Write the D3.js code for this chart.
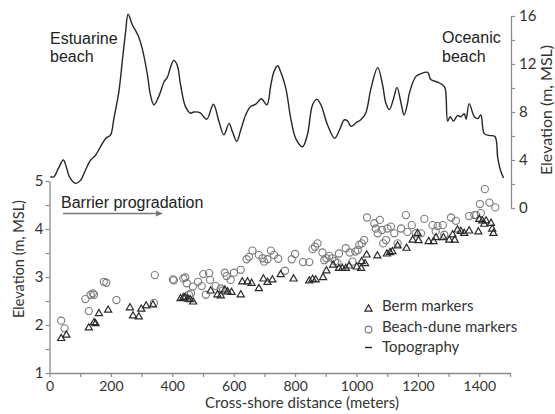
<!DOCTYPE html>
<html>
<head>
<meta charset="utf-8">
<script src="https://cdn.jsdelivr.net/npm/d3@7"></script>
<style>
  html, body { margin: 0; padding: 0; background: #fff; }
  svg { display: block; }
</style>
</head>
<body>
<svg id="chart" width="555" height="414"></svg>
<script>
// Topographic profile across the barrier (distance in m, elevation in m MSL)
const topoDist = [3, 14, 29, 45, 55, 65, 85, 101, 117, 134, 150, 166, 183, 199, 210, 226, 237, 248, 256, 270,
  280, 290, 302, 319, 329, 340, 356, 373, 384, 395, 405, 416, 427, 443, 460, 470, 490, 512, 534, 552,
  568, 585, 596, 610, 623, 639, 655, 672, 690, 708, 721, 731, 743, 753, 770, 786, 802, 824, 840, 857,
  871, 884, 906, 929, 947, 960, 971, 982, 1001, 1014, 1030, 1047, 1069, 1085, 1096, 1107, 1121, 1132, 1145, 1155,
  1166, 1172, 1193, 1210, 1232, 1242, 1264, 1281, 1289, 1297, 1305, 1316, 1329, 1340, 1351, 1357, 1367, 1384, 1395, 1405,
  1416, 1432, 1451, 1460, 1469, 1479];
const topoElev = [2.6, 2.6, 3.3, 4.0, 3.4, 2.6, 2.05, 2.3, 3.15, 4.0, 4.4, 5.1, 5.8, 6.1, 7.5, 9.7, 12.2, 14.7, 16.15, 15.25,
  14.8, 14.3, 13.3, 11.1, 9.4, 8.6, 9.3, 10.5, 10.9, 11.8, 12.3, 11.9, 10.25, 8.45, 7.9, 8.0, 7.95, 7.4, 8.65, 7.2,
  6.1, 7.05, 6.35, 5.55, 6.5, 7.75, 8.45, 8.65, 9.1, 8.6, 10.25, 11.35, 11.85, 11.35, 9.95, 7.45, 5.8, 5.1, 6.1, 8.6,
  9.05, 8.6, 6.9, 5.8, 6.65, 7.35, 7.25, 6.8, 7.15, 7.35, 7.9, 9.95, 11.7, 10.25, 8.7, 8.2, 9.15, 10.05, 8.75, 7.75,
  8.7, 9.55, 10.95, 11.2, 11.3, 10.7, 10.5, 10.25, 9.95, 7.25, 7.6, 7.25, 7.7, 7.6, 7.85, 7.4, 8.7, 7.6, 7.45, 7.75,
  6.2, 6.05, 5.95, 4.2, 3.15, 2.5];

// Berm markers
const bermDist = [38, 55, 128, 145, 150, 161, 191, 262, 272, 291, 299, 315, 337, 427, 436, 442, 451, 458, 468, 525,
  547, 558, 571, 580, 593, 623, 628, 645, 658, 682, 697, 710, 726, 753, 795, 846, 857, 867, 891, 902,
  924, 943, 954, 965, 976, 1001, 1015, 1017, 1028, 1033, 1068, 1099, 1109, 1117, 1134, 1163, 1183, 1199, 1202, 1235,
  1251, 1259, 1283, 1302, 1313, 1320, 1329, 1340, 1351, 1367, 1397, 1400, 1410, 1416, 1422, 1438, 1442, 1446];
const bermElev = [1.72, 1.79, 1.94, 2.05, 2.03, 2.24, 2.31, 2.36, 2.19, 2.17, 2.33, 2.40, 2.42, 2.55, 2.57, 2.58, 2.54, 2.53, 2.48, 2.71,
  2.63, 2.61, 2.73, 2.69, 2.68, 2.63, 2.90, 2.90, 2.87, 2.76, 2.96, 2.89, 2.94, 3.05, 2.96, 2.92, 2.95, 2.94, 2.99, 3.13,
  3.25, 3.18, 3.18, 3.18, 3.23, 3.21, 3.18, 3.32, 3.28, 3.46, 3.44, 3.48, 3.51, 3.53, 3.65, 3.60, 3.77, 3.91, 3.76, 3.74,
  3.74, 3.82, 3.82, 3.77, 3.88, 3.77, 3.98, 3.95, 3.91, 3.96, 3.94, 4.20, 4.17, 4.10, 4.17, 4.12, 4.00, 3.91];

// Beach-dune markers
const duneDist = [38, 49, 117, 128, 134, 141, 145, 177, 185, 218, 340, 343, 402, 405, 436, 442, 447, 454, 461, 467,
  484, 496, 501, 509, 520, 523, 541, 558, 565, 571, 577, 590, 601, 623, 642, 650, 661, 682, 694, 699,
  710, 721, 731, 745, 767, 789, 800, 826, 846, 857, 865, 873, 889, 895, 902, 911, 921, 930, 938, 943,
  965, 978, 987, 996, 1004, 1009, 1017, 1025, 1034, 1058, 1063, 1069, 1076, 1083, 1087, 1096, 1101, 1112, 1123, 1134,
  1145, 1161, 1166, 1180, 1193, 1210, 1221, 1248, 1258, 1264, 1281, 1286, 1308, 1324, 1367, 1384, 1390, 1402, 1405, 1418,
  1433, 1452];
const duneElev = [2.09, 1.93, 2.54, 2.29, 2.63, 2.66, 2.63, 2.90, 2.88, 2.52, 2.46, 3.04, 2.95, 2.93, 2.97, 2.99, 2.87, 2.63, 2.66, 2.80,
  2.90, 2.81, 3.06, 2.63, 3.08, 2.94, 2.81, 2.76, 2.72, 3.09, 3.02, 2.94, 3.09, 3.15, 3.37, 3.42, 3.55, 3.46, 3.39, 3.32,
  3.37, 3.55, 3.46, 3.38, 3.13, 3.37, 3.48, 3.31, 3.31, 3.58, 3.63, 3.70, 3.51, 3.35, 3.39, 3.44, 3.39, 3.33, 3.29, 3.49,
  3.60, 3.51, 3.32, 3.53, 3.56, 3.67, 3.70, 3.77, 4.24, 4.12, 4.01, 3.91, 4.19, 3.98, 3.70, 3.77, 4.01, 4.05, 3.91, 3.70,
  4.01, 4.29, 3.94, 4.08, 3.91, 3.91, 4.21, 4.08, 3.95, 4.06, 4.08, 3.88, 4.24, 4.17, 4.27, 4.29, 4.29, 4.52, 4.33, 4.83,
  4.55, 4.45];

// Axis ticks
const xTicks = [0, 100, 200, 300, 400, 500, 600, 700, 800, 900, 1000, 1100, 1200, 1300, 1400, 1500];
const xTickLabels = ["0", "", "200", "", "400", "", "600", "", "800", "", "1000", "", "1200", "", "1400", ""];
const markerTicks = [1, 1.5, 2, 2.5, 3, 3.5, 4, 4.5, 5];
const markerTickLabels = ["1", "", "2", "", "3", "", "4", "", "5"];
const topoTicks = [0, 2, 4, 6, 8, 10, 12, 14, 16];
const topoTickLabels = ["0", "", "4", "", "8", "", "12", "", "16"];

const svg = d3.select("#chart");
const axisColor = "#8a8a8a";
const textColor = "#333";
const tickFont = "Lato, 'Open Sans', sans-serif";
const annoFont = "'Liberation Sans', Arial, sans-serif";

const x = d3.scaleLinear().domain([0, 1500]).range([49.5, 510]);
const yM = d3.scaleLinear().domain([1, 5]).range([373, 181]);
const yT = d3.scaleLinear().domain([0, 16]).range([208, 16]);

// Bottom axis
const gx = svg.append("g").attr("transform", "translate(0,373)")
  .call(d3.axisBottom(x).tickValues(xTicks).tickSize(4).tickSizeOuter(0)
    .tickFormat((d, i) => xTickLabels[i]));
gx.select(".domain").attr("stroke", axisColor).attr("stroke-width", 1.3);
gx.selectAll(".tick line").attr("stroke", axisColor).attr("stroke-width", 1.2);
gx.selectAll(".tick text").attr("fill", textColor).attr("font-family", tickFont)
  .attr("font-size", 14).attr("dy", "0.9em").attr("y", 5);

// Left axis (markers)
const gl = svg.append("g").attr("transform", "translate(49.5,0)")
  .call(d3.axisLeft(yM).tickValues(markerTicks).tickSize(4).tickSizeOuter(0)
    .tickFormat((d, i) => markerTickLabels[i]));
gl.select(".domain").attr("stroke", axisColor).attr("stroke-width", 1.3);
gl.selectAll(".tick line").attr("stroke", axisColor).attr("stroke-width", 1.2);
gl.selectAll(".tick text").attr("fill", textColor).attr("font-family", tickFont)
  .attr("font-size", 15).attr("x", -6);

// Right axis (topography)
const gr = svg.append("g").attr("transform", "translate(511,0)")
  .call(d3.axisRight(yT).tickValues(topoTicks).tickSize(4).tickSizeOuter(0)
    .tickFormat((d, i) => topoTickLabels[i]));
gr.select(".domain").attr("stroke", axisColor).attr("stroke-width", 1.3);
gr.selectAll(".tick line").attr("stroke", axisColor).attr("stroke-width", 1.2);
gr.selectAll(".tick text").attr("fill", textColor).attr("font-family", tickFont)
  .attr("font-size", 15).attr("x", 8);

// Axis titles
svg.append("text").attr("transform", "translate(20,259) rotate(-90)")
  .attr("text-anchor", "middle").attr("dominant-baseline", "middle")
  .attr("font-family", tickFont).attr("font-size", 14.5).attr("fill", textColor)
  .text("Elevation (m, MSL)");
svg.append("text").attr("transform", "translate(548,110) rotate(-90)")
  .attr("text-anchor", "middle").attr("dominant-baseline", "middle")
  .attr("font-family", tickFont).attr("font-size", 16).attr("fill", textColor)
  .text("Elevation (m, MSL)");
svg.append("text").attr("x", 302).attr("y", 408)
  .attr("text-anchor", "middle")
  .attr("font-family", tickFont).attr("font-size", 15).attr("fill", textColor)
  .text("Cross-shore distance (meters)");

// Topographic profile
const line = d3.line()
  .x((d, i) => x(topoDist[i]))
  .y((d, i) => yT(topoElev[i]))
  .curve(d3.curveCatmullRom.alpha(0.5));
svg.append("path").datum(topoDist)
  .attr("d", line)
  .attr("fill", "none").attr("stroke", "#262626").attr("stroke-width", 1.4)
  .attr("stroke-linejoin", "round");

// Beach-dune markers (open circles)
svg.append("g").selectAll("circle").data(duneDist).join("circle")
  .attr("cx", (d, i) => x(d)).attr("cy", (d, i) => yM(duneElev[i]))
  .attr("r", 3.6)
  .attr("fill", "none").attr("stroke", "#7a7a7a").attr("stroke-width", 1.1);

// Berm markers (open triangles)
const tri = d3.symbol().type(d3.symbolTriangle).size(22);
svg.append("g").selectAll("path").data(bermDist).join("path")
  .attr("transform", (d, i) => `translate(${x(d)},${yM(bermElev[i])})`)
  .attr("d", tri)
  .attr("fill", "none").attr("stroke", "#2a2a2a").attr("stroke-width", 1.2);

// Annotations
const anno = [
  { t: "Estuarine", x: 50, y: 44 },
  { t: "beach", x: 50, y: 62 },
  { t: "Oceanic", x: 442, y: 43 },
  { t: "beach", x: 442, y: 62 },
  { t: "Barrier progradation", x: 61, y: 208 }
];
svg.append("g").selectAll("text").data(anno).join("text")
  .attr("x", d => d.x).attr("y", d => d.y)
  .attr("font-family", annoFont).attr("font-size", 16).attr("fill", "#222")
  .text(d => d.t);

// Progradation arrow
svg.append("line").attr("x1", 63).attr("x2", 158).attr("y1", 213.5).attr("y2", 213.5)
  .attr("stroke", "#777").attr("stroke-width", 1.3);
svg.append("path").attr("d", "M156,210.5 L163,213.5 L156,216.5 Z").attr("fill", "#777");

// Legend
const lg = svg.append("g");
lg.append("path").attr("transform", "translate(368.5,309)").attr("d", tri)
  .attr("fill", "none").attr("stroke", "#2a2a2a").attr("stroke-width", 1.2);
lg.append("circle").attr("cx", 368.5).attr("cy", 329.5).attr("r", 3.4)
  .attr("fill", "none").attr("stroke", "#7a7a7a").attr("stroke-width", 1.1);
lg.append("line").attr("x1", 365).attr("x2", 372).attr("y1", 347.5).attr("y2", 347.5)
  .attr("stroke", "#262626").attr("stroke-width", 1.4);
const legendText = ["Berm markers", "Beach-dune markers", "Topography"];
lg.selectAll("text").data(legendText).join("text")
  .attr("x", 382).attr("y", (d, i) => 311 + i * 20.5)
  .attr("font-family", tickFont).attr("font-size", 15).attr("fill", textColor)
  .text(d => d);
</script>
</body>
</html>
